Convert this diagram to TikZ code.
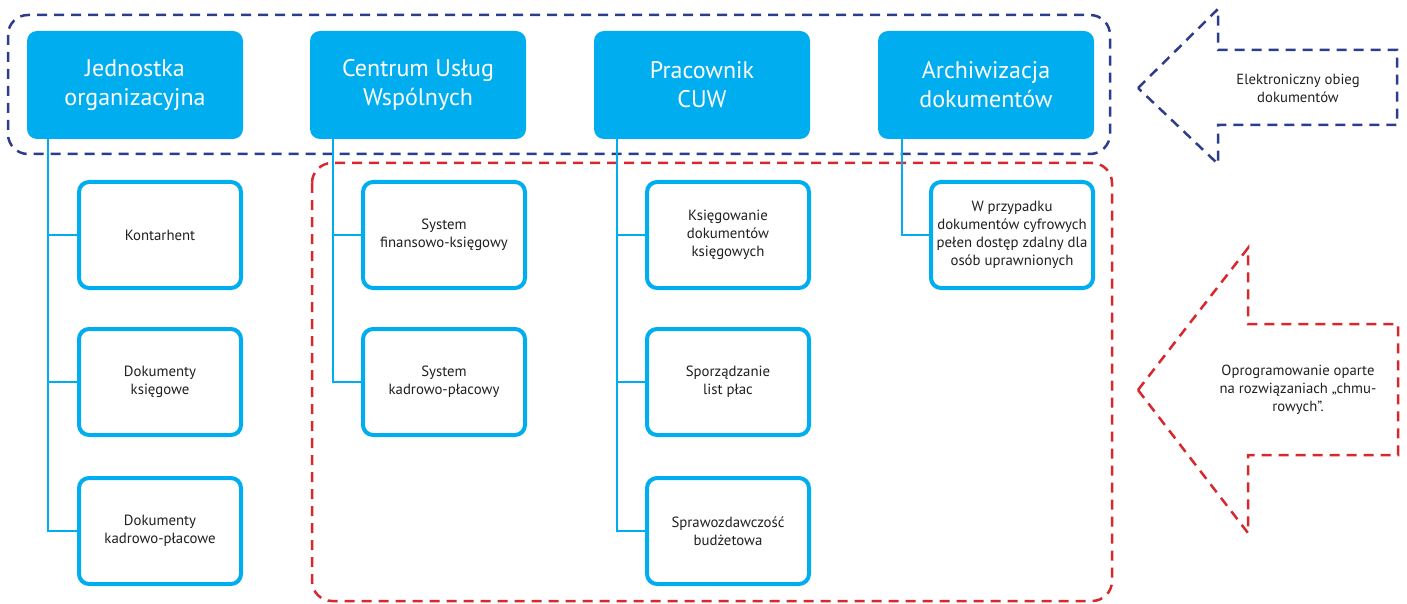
\documentclass[tikz,border=0pt]{standalone}
\usepackage{fontspec}
\setmainfont{PT Sans}
\definecolor{cuw}{HTML}{00AEEF}
\definecolor{dblue}{HTML}{2E3C8C}
\definecolor{dred}{HTML}{D9272E}
\definecolor{txt}{HTML}{231F20}
\tikzset{
  topbox/.style={fill=cuw, draw=none, rounded corners=10pt, minimum width=216pt, minimum height=108pt, align=center, text=white, font=\fontsize{24}{29}\selectfont, inner sep=0pt},
  childbox/.style={fill=white, draw=cuw, line width=4pt, rounded corners=10pt, minimum width=162pt, minimum height=106pt, align=center, text=txt, font=\fontsize{14.8}{18}\selectfont, inner sep=0pt},
  conn/.style={draw=cuw, line width=2.5pt},
  bluedash/.style={draw=dblue, line width=2.5pt, dash pattern=on 10pt off 7pt},
  reddash/.style={draw=dred, line width=2.5pt, dash pattern=on 10pt off 7pt},
  arrtext/.style={align=center, text=txt, font=\fontsize{14.7}{18}\selectfont},
}
\begin{document}
\begin{tikzpicture}[x=1pt,y=-1pt]
\useasboundingbox (0,0) rectangle (1407,604);
% dashed groups
\draw[reddash, rounded corners=20pt] (312,163) rectangle (1112,601);
\draw[bluedash, rounded corners=20pt] (8,15) rectangle (1110,154);
% top boxes
\node[topbox] (t1) at (135,85) {Jednostka\\organizacyjna};
\node[topbox] (t2) at (418,85) {Centrum Usług\\Wspólnych};
\node[topbox] (t3) at (702,85) {Pracownik\\CUW};
\node[topbox] (t4) at (986,85) {Archiwizacja\\dokumentów};
% children
\node[childbox] (c11) at (160,235) {Kontarhent};
\node[childbox] (c12) at (160,382) {Dokumenty\\księgowe};
\node[childbox] (c13) at (160,531) {Dokumenty\\kadrowo-płacowe};
\node[childbox] (c21) at (444,235) {System\\finansowo-księgowy};
\node[childbox] (c22) at (444,382) {System\\kadrowo-płacowy};
\node[childbox] (c31) at (728,235) {Księgowanie\\dokumentów\\księgowych};
\node[childbox] (c32) at (728,382) {Sporządzanie\\list płac};
\node[childbox] (c33) at (728,531) {Sprawozdawczość\\budżetowa};
\node[childbox] (c41) at (1012,235) {W przypadku\\dokumentów cyfrowych\\pełen dostęp zdalny dla\\osób uprawnionych};
% connectors
\draw[conn] ([xshift=21pt]t1.south west) |- (c11.west);
\draw[conn] ([xshift=21pt]t1.south west) |- (c12.west);
\draw[conn] ([xshift=21pt]t1.south west) |- (c13.west);
\draw[conn] ([xshift=23pt]t2.south west) |- (c21.west);
\draw[conn] ([xshift=23pt]t2.south west) |- (c22.west);
\draw[conn] ([xshift=23pt]t3.south west) |- (c31.west);
\draw[conn] ([xshift=23pt]t3.south west) |- (c32.west);
\draw[conn] ([xshift=23pt]t3.south west) |- (c33.west);
\draw[conn] ([xshift=24pt]t4.south west) |- (c41.west);
% arrows
\draw[bluedash] (1138,88) -- (1218,9) -- (1218,50) -- (1397,50) -- (1397,125) -- (1218,125) -- (1218,164) -- cycle;
\node[arrtext] (a1) at (1298,88) {Elektroniczny obieg\\dokumentów};
\draw[reddash] (1138,390) -- (1248,248) -- (1248,324) -- (1398,324) -- (1398,455) -- (1248,455) -- (1248,533) -- cycle;
\node[arrtext] (a2) at (1298,390) {Oprogramowanie oparte\\na rozwiązaniach „chmu-\\rowych”.};
\end{tikzpicture}
\end{document}
